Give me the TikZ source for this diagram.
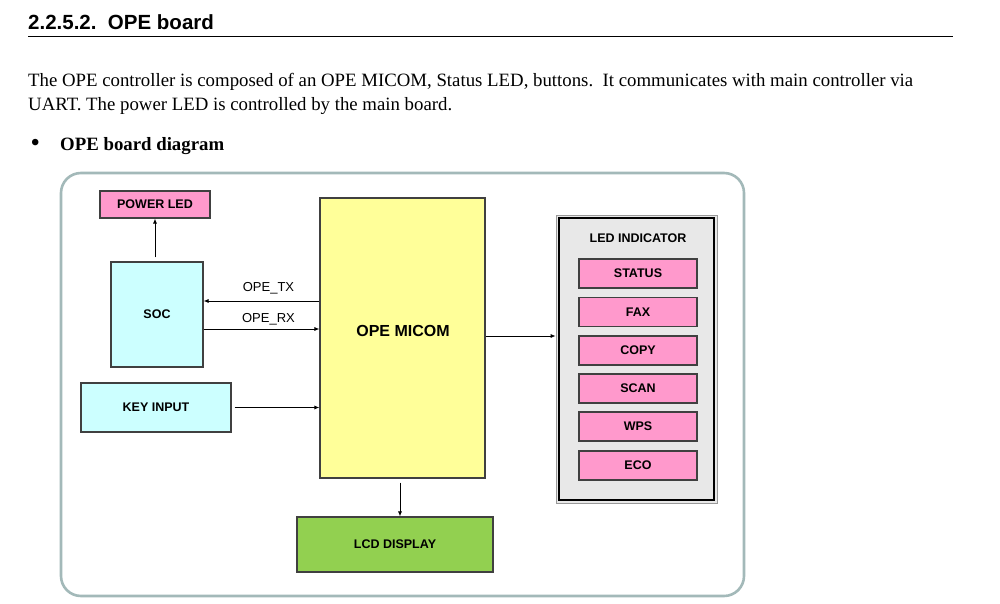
\documentclass[tikz,border=0pt]{standalone}
\usepackage{fontspec}
\setmainfont{Liberation Serif}
\setsansfont{Liberation Sans}
\usetikzlibrary{arrows.meta}

\definecolor{ledpink}{HTML}{FF99CC}
\definecolor{socblue}{HTML}{CCFFFF}
\definecolor{micomyel}{HTML}{FFFF99}
\definecolor{lcdgreen}{HTML}{92D050}
\definecolor{panelgray}{HTML}{E8E8E8}
\definecolor{frameteal}{HTML}{A3B9B9}
\definecolor{boxline}{HTML}{404040}

\tikzset{
  blk/.style={draw=boxline, line width=1.1pt, inner sep=0pt,
    font=\sffamily\bfseries\fontsize{12.5}{14}\selectfont},
  ledbox/.style={blk, fill=ledpink, minimum width=118pt, minimum height=29pt},
  sig/.style={-{Latex[length=5pt,width=4pt]}, line width=0.8pt},
  sigtxt/.style={font=\sffamily\fontsize{13}{15}\selectfont, inner sep=0pt}
}

\begin{document}
\begin{tikzpicture}[x=1pt,y=-1pt]
  \useasboundingbox (0,0) rectangle (1000,604);
  \fill[white] (0,0) rectangle (1000,604);

  % heading and text
  \node[anchor=base west, inner sep=0pt] (title) at (28,29.5)
    {\sffamily\bfseries\fontsize{20.5}{24}\selectfont 2.2.5.2.\ \ OPE board};
  \draw[line width=1pt] (28,36.5) -- (953,36.5);
  \node[anchor=base west, inner sep=0pt] (line1) at (28,87)
    {\fontsize{18.8}{22}\selectfont The OPE controller is composed of an OPE MICOM, Status LED, buttons.\ \ It communicates with main controller via};
  \node[anchor=base west, inner sep=0pt] (line2) at (28,111)
    {\fontsize{18.8}{22}\selectfont UART. The power LED is controlled by the main board.};
  \node[anchor=base west, inner sep=0pt] (dot) at (31,150.5)
    {\fontsize{24}{22}\selectfont\bfseries\textbullet};
  \node[anchor=base west, inner sep=0pt] (sub) at (60,150.5)
    {\fontsize{18.8}{22}\selectfont\bfseries OPE board diagram};

  % frame
  \draw[frameteal, line width=2.6pt, rounded corners=20pt] (61,173) rectangle (744,596);

  % blocks
  \node[blk, fill=ledpink, minimum width=110pt, minimum height=27pt] (pled) at (155,204.5) {POWER LED};
  \node[blk, fill=socblue, minimum width=92pt, minimum height=105pt] (soc) at (157,314.5) {SOC};
  \node[blk, fill=socblue, minimum width=150pt, minimum height=49pt] (keyin) at (156,407.5) {KEY INPUT};
  \node[blk, fill=micomyel, minimum width=165pt, minimum height=280pt] (micom) at (402.5,338) {};
  \node[font=\sffamily\bfseries\fontsize{16}{18}\selectfont, inner sep=0pt]
    (micomtxt) at (403,331) {OPE MICOM};
  \node[blk, fill=lcdgreen, minimum width=196pt, minimum height=55pt] (lcd) at (395,544.5) {LCD DISPLAY};

  % led indicator panel
  \node[draw=gray!80, line width=0.7pt, fill=panelgray, minimum width=161pt, minimum height=288pt] (ledind) at (636.5,359) {};
  \draw[black, line width=2.6pt] ([shift={(3.5pt,-3.5pt)}]ledind.north west) rectangle ([shift={(-3.5pt,3.5pt)}]ledind.south east);
  \node[font=\sffamily\bfseries\fontsize{12.5}{14}\selectfont, inner sep=0pt]
    (ledtitle) at (638,238) {LED INDICATOR};
  \node[ledbox] (status) at (638,273.5) {STATUS};
  \node[ledbox] (fax) at (638,312) {FAX};
  \node[ledbox] (copy) at (638,350.5) {COPY};
  \node[ledbox] (scan) at (638,388.5) {SCAN};
  \node[ledbox] (wps) at (638,426.5) {WPS};
  \node[ledbox] (eco) at (638,465.5) {ECO};

  % connections
  \draw[sig] ([yshift=4pt]pled.south |- soc.north) -- (pled.south);
  \draw[sig] ([yshift=13.5pt]micom.west |- soc.east) -- ([yshift=13.5pt]soc.east);
  \draw[sig] ([yshift=-14.5pt]soc.east) -- ([yshift=-14.5pt]micom.west |- soc.east);
  \draw[sig] ([xshift=3pt]keyin.east) -- (micom.west |- keyin.east);
  \draw[sig] ([yshift=2pt]micom.east) -- ([yshift=2pt]ledind.west |- micom.east);
  \draw[sig] ([xshift=-2.5pt,yshift=-4pt]micom.south) -- ([xshift=-2.5pt]micom.south |- lcd.north);

  \node[sigtxt] (tx) at (268.5,288) {OPE\_TX};
  \node[sigtxt] (rx) at (268.5,319) {OPE\_RX};
\end{tikzpicture}
\end{document}
